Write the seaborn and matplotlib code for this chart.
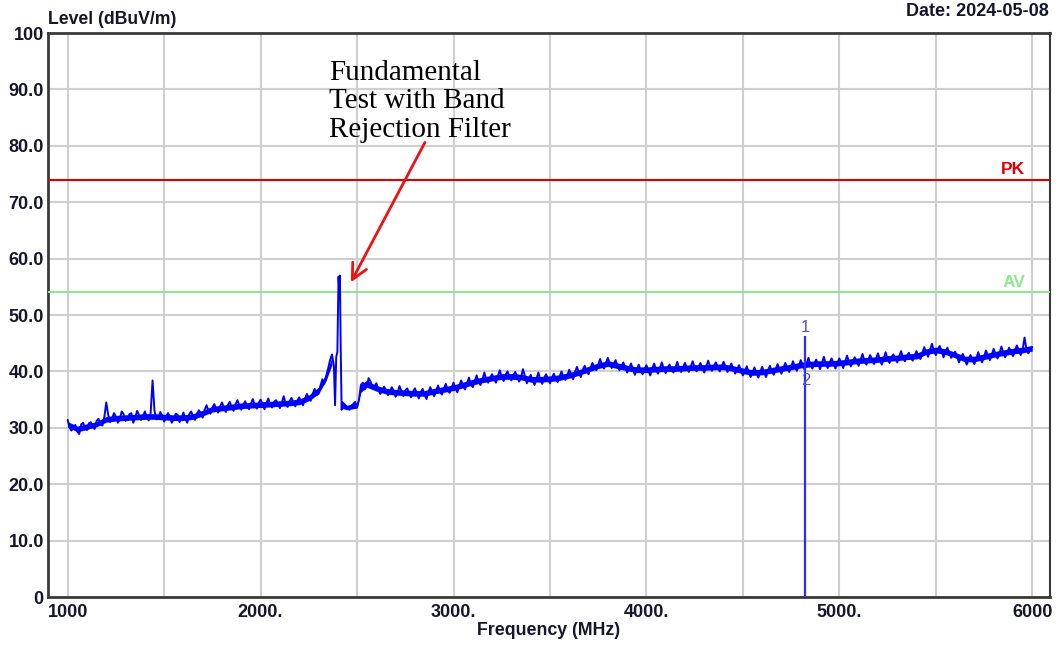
import numpy as np
import pandas as pd
import matplotlib
matplotlib.use("Agg")
import matplotlib.pyplot as plt
import seaborn as sns

# ---------------- data ----------------
freq_main = list(range(1000, 2400, 20))
level_main = [
    31.4, 29.5, 30.5, 28.9, 30.9, 29.6, 31.0, 29.8, 31.6, 30.4,
    34.5, 31.0, 32.6, 30.9, 32.9, 31.2, 32.4, 30.9, 33.0, 31.4,
    32.9, 31.3, 38.4, 31.5, 32.8, 31.1, 32.6, 30.9, 32.5, 31.0,
    32.7, 30.9, 32.9, 31.4, 33.1, 31.8, 34.0, 32.5, 34.2, 32.7,
    34.5, 32.8, 34.6, 33.0, 34.9, 33.2, 34.7, 33.3, 35.1, 33.4,
    35.0, 33.3, 35.2, 33.6, 34.9, 33.5, 35.6, 33.7, 35.3, 33.8,
    35.4, 34.0, 36.0, 34.8, 36.9, 36.0, 38.6, 39.2, 42.0, 41.0,
]
freq_main_mid = list(range(1010, 2380, 20))
level_main_mid = [
    30.0, 30.2, 29.3, 30.6, 29.9, 30.8, 30.1, 31.2, 30.6, 31.9,
    32.3, 31.6, 32.0, 31.5, 32.4, 31.7, 32.6, 31.8, 32.2, 32.0,
    31.9, 32.6, 33.0, 31.7, 32.2, 31.9, 32.0, 31.6, 32.3, 31.8,
    31.6, 32.4, 32.0, 32.5, 32.6, 33.2, 33.0, 33.6, 33.3, 33.8,
    33.5, 34.0, 33.7, 34.2, 33.9, 34.1, 33.8, 34.3, 34.0, 34.4,
    34.2, 34.4, 34.0, 34.6, 34.3, 34.5, 34.2, 34.7, 34.4, 34.8,
    34.6, 35.2, 35.3, 36.0, 35.8, 37.4, 37.8, 40.5, 43.0,
]
freq_peak = [2386, 2392, 2398, 2404, 2408, 2411, 2415, 2420, 2425, 2440,
             2450, 2460, 2470, 2480, 2490, 2500, 2510, 2520, 2530, 2540,
             2550, 2560, 2570, 2580, 2590]
level_peak = [34.0, 42.5, 43.5, 56.8, 54.2, 57.0, 45.0, 33.2, 34.5, 34.0,
              33.6, 33.2, 33.9, 34.2, 34.6, 33.6, 35.0, 37.6, 38.0, 36.8,
              37.4, 38.8, 38.2, 37.0, 37.3]
freq_high = list(range(2600, 6020, 20))
level_high = [
    37.9, 36.0, 37.3, 35.8, 37.2, 35.5, 37.4, 35.6, 37.0, 35.4,
    37.0, 35.2, 36.9, 35.1, 37.2, 35.6, 37.5, 35.9, 37.8, 36.2,
    38.0, 36.3, 38.4, 36.8, 38.9, 37.2, 39.3, 37.6, 39.8, 38.0,
    39.5, 38.0, 40.2, 38.3, 40.0, 38.4, 39.9, 38.2, 40.4, 37.9,
    39.4, 37.6, 39.8, 37.8, 39.5, 37.9, 39.6, 38.1, 40.0, 38.5,
    40.3, 38.6, 40.8, 39.0, 41.0, 39.5, 41.5, 40.2, 42.2, 40.5,
    42.4, 40.6, 42.0, 40.2, 41.6, 39.8, 41.4, 39.4, 41.2, 39.5,
    41.1, 39.3, 41.4, 39.6, 41.6, 39.7, 41.2, 39.8, 41.7, 39.9,
    41.5, 39.9, 41.8, 40.0, 41.5, 39.8, 41.9, 40.1, 41.6, 40.0,
    41.7, 39.9, 41.4, 39.6, 41.1, 39.3, 40.9, 39.0, 40.7, 38.9,
    40.8, 39.0, 41.0, 39.4, 41.3, 39.6, 41.5, 39.9, 41.8, 40.1,
    42.0, 40.3, 42.4, 40.5, 42.1, 40.4, 42.6, 40.6, 42.3, 40.5,
    42.3, 40.6, 42.8, 40.9, 42.5, 41.0, 43.1, 41.2, 42.9, 41.3,
    43.2, 41.2, 43.4, 41.5, 43.0, 41.6, 43.6, 41.8, 43.3, 41.9,
    43.6, 42.2, 44.3, 42.6, 44.9, 42.9, 44.5, 42.5, 44.2, 42.4,
    43.5, 41.6, 43.1, 41.2, 42.9, 41.3, 43.4, 41.6, 43.7, 42.0,
    44.0, 42.3, 44.4, 42.5, 44.2, 42.7, 44.6, 42.9, 46.0, 43.2,
    44.3,
]
freq_high_mid = list(range(2610, 6000, 20))
level_high_mid = [
    36.9, 36.5, 36.7, 36.3, 36.6, 36.2, 36.5, 36.6, 36.2, 36.4,
    36.1, 36.3, 35.9, 36.4, 36.2, 36.6, 36.4, 36.9, 36.6, 37.1,
    37.0, 37.5, 37.3, 37.9, 37.7, 38.2, 38.1, 38.6, 38.5, 38.9,
    38.7, 39.2, 38.9, 39.4, 39.0, 39.3, 39.1, 38.9, 39.2, 38.6,
    38.4, 38.7, 38.5, 38.9, 38.6, 38.8, 38.7, 39.1, 38.9, 39.3,
    39.4, 39.9, 39.8, 40.3, 40.1, 40.6, 40.8, 41.2, 41.1, 41.5,
    41.4, 41.2, 41.0, 40.9, 40.7, 40.5, 40.4, 40.3, 40.2, 40.4,
    40.1, 40.5, 40.3, 40.6, 40.4, 40.7, 40.3, 40.6, 40.5, 40.8,
    40.6, 40.9, 40.7, 40.8, 40.5, 40.9, 40.8, 41.0, 40.7, 40.9,
    40.8, 40.6, 40.5, 40.3, 40.2, 40.0, 39.9, 39.8, 39.7, 39.9,
    39.8, 40.1, 40.0, 40.4, 40.3, 40.6, 40.5, 40.8, 40.7, 41.0,
    41.1, 41.3, 41.2, 41.4, 41.3, 41.5, 41.2, 41.6, 41.4, 41.5,
    41.4, 41.7, 41.6, 41.8, 41.7, 42.0, 41.9, 42.1, 42.0, 42.2,
    42.1, 42.3, 42.2, 42.5, 42.3, 42.6, 42.4, 42.7, 42.5, 42.8,
    42.6, 43.2, 43.4, 43.8, 43.7, 43.9, 43.6, 43.4, 43.2, 43.0,
    42.7, 42.4, 42.2, 42.1, 42.0, 42.3, 42.4, 42.6, 42.8, 42.9,
    43.0, 43.2, 43.3, 43.4, 43.5, 43.6, 43.7, 43.8, 43.9, 44.0,
]

# solid core of the noisy trace (low / high edge)
band_freq_a = [1000, 1050, 1100, 1150, 1200, 1250, 1300, 1350, 1400, 1450,
               1500, 1550, 1600, 1650, 1700, 1750, 1800, 1850, 1900, 1950,
               2000, 2050, 2100, 2150, 2200, 2250, 2300, 2340, 2370]
band_lo_a = [30.1, 29.3, 29.7, 30.2, 31.0, 31.2, 31.3, 31.4, 31.5, 31.5,
             31.4, 31.3, 31.3, 31.5, 32.1, 32.8, 33.0, 33.2, 33.4, 33.5,
             33.6, 33.7, 33.8, 33.9, 34.1, 34.8, 36.0, 38.4, 41.2]
band_hi_a = [31.1, 30.3, 30.7, 31.1, 32.0, 32.2, 32.3, 32.4, 32.5, 32.5,
             32.4, 32.3, 32.3, 32.5, 33.1, 33.8, 34.0, 34.2, 34.4, 34.5,
             34.6, 34.7, 34.8, 34.9, 35.1, 35.8, 37.2, 39.6, 42.6]
band_freq_b = [2425, 2450, 2500, 2520, 2550] + list(range(2600, 6050, 50))
band_lo_b = [
    33.4, 33.2, 33.5, 36.3, 37.2,
    36.5, 36.0, 35.8, 35.7, 35.6, 35.6, 36.0, 36.3, 36.6, 37.1,
    37.6, 38.0, 38.3, 38.6, 38.6, 38.5, 38.1, 38.1, 38.2, 38.4,
    38.8, 39.3, 39.9, 40.5, 40.9, 40.5, 40.1, 39.8, 39.8, 39.9,
    40.0, 40.0, 40.1, 40.2, 40.2, 40.3, 40.3, 40.0, 39.6, 39.3,
    39.4, 39.7, 40.0, 40.3, 40.6, 40.8, 40.9, 40.9, 41.0, 41.2,
    41.4, 41.5, 41.6, 41.8, 41.9, 42.1, 42.2, 43.0, 43.3, 43.0,
    42.4, 41.7, 41.7, 42.1, 42.5, 42.8, 43.1, 43.3, 43.6,
]
band_hi_b = [
    34.3, 34.0, 34.5, 37.7, 38.4,
    37.5, 37.0, 36.8, 36.7, 36.6, 36.6, 37.0, 37.3, 37.6, 38.1,
    38.6, 39.0, 39.3, 39.6, 39.6, 39.5, 39.1, 39.1, 39.2, 39.4,
    39.8, 40.3, 40.9, 41.5, 41.9, 41.5, 41.1, 40.8, 40.8, 40.9,
    41.0, 41.0, 41.1, 41.2, 41.2, 41.3, 41.3, 41.0, 40.6, 40.3,
    40.4, 40.7, 41.0, 41.3, 41.6, 41.8, 41.9, 41.9, 42.0, 42.2,
    42.4, 42.5, 42.6, 42.8, 42.9, 43.1, 43.2, 44.0, 44.3, 44.0,
    43.4, 42.7, 42.7, 43.1, 43.5, 43.8, 44.1, 44.3, 44.6,
]

limit_names = ["PK", "AV"]
limit_levels = [74.0, 54.0]
limit_colors = ["#e00000", "#8fe88f"]
limit_label_levels = [75.8, 55.7]

marker_freq = [4824.0]
marker_top = [46.3]
marker_labels = ["1", "2"]
marker_label_levels = [47.8, 38.3]

x_ticks = [1000, 2000, 3000, 4000, 5000, 6000]
x_ticklabels = ["1000", "2000.", "3000.", "4000.", "5000.", "6000"]
y_ticks = [0, 10, 20, 30, 40, 50, 60, 70, 80, 90, 100]
y_ticklabels = ["0", "10.0", "20.0", "30.0", "40.0", "50.0", "60.0",
                "70.0", "80.0", "90.0", "100"]

# ---------------- figure ----------------
sns.set_theme(style="white")
plt.rcParams["font.family"] = ["Liberation Sans", "DejaVu Sans"]

fig = plt.figure(figsize=(10.58, 6.49), dpi=100)
ax = fig.add_axes([48 / 1058, 52 / 649, 1002 / 1058, 564 / 649])

trace_blue = "#0000ff"
ax.fill_between(band_freq_a, band_lo_a, band_hi_a, color=trace_blue,
                linewidth=0, zorder=4)
ax.fill_between(band_freq_b, band_lo_b, band_hi_b, color=trace_blue,
                linewidth=0, zorder=4)

df = pd.DataFrame({
    "freq": freq_main + freq_main_mid + freq_peak + freq_high + freq_high_mid,
    "level": level_main + level_main_mid + level_peak + level_high + level_high_mid,
}).sort_values("freq")
sns.lineplot(data=df, x="freq", y="level", ax=ax, color=trace_blue,
             linewidth=1.4, estimator=None, sort=False, zorder=4)

for name, lev, lab_lev, col in zip(limit_names, limit_levels,
                                   limit_label_levels, limit_colors):
    ax.axhline(lev, color=col, linewidth=1.5, zorder=3)
    ax.text(5965, lab_lev, name, color=col, fontsize=12.5,
            fontweight="bold", ha="right", va="center", zorder=5)

for f, top in zip(marker_freq, marker_top):
    ax.vlines(f, 0, top, color="#2b2bff", linewidth=1.6, zorder=5)
    ax.text(f, marker_label_levels[0], marker_labels[0], color="#5a4fe0",
            fontsize=12, ha="center", va="center", zorder=6)
    ax.text(f, marker_label_levels[1], marker_labels[1], color="#5a4fe0",
            fontsize=12, ha="center", va="center", zorder=6)

ax.set_xlim(898, 6092)
ax.set_ylim(0, 100)
ax.set_xticks(x_ticks)
ax.set_xticklabels(x_ticklabels)
ax.set_xticks([1500, 2500, 3500, 4500, 5500], minor=True)
ax.set_yticks(y_ticks)
ax.set_yticklabels(y_ticklabels)

ax.grid(True, which="both", color="#cfcfcf", linewidth=1.5, zorder=0)
ax.set_axisbelow(True)
ax.tick_params(axis="both", which="both", length=0)
ax.tick_params(axis="x", pad=5, labelsize=13, labelcolor="#15152e")
ax.tick_params(axis="y", pad=3, labelsize=13, labelcolor="#15152e")
for lab in ax.get_xticklabels() + ax.get_yticklabels():
    lab.set_fontweight("bold")

for side, sp in ax.spines.items():
    sp.set_visible(True)
    sp.set_color("#3a3a3a")
    sp.set_linewidth(2.0 if side in ("left", "bottom", "top") else 1.5)

ax.set_xlabel("Frequency (MHz)", fontsize=12.8, fontweight="bold",
              color="#15152e", labelpad=1)
ax.set_ylabel("")

fig.text(48 / 1058, 1 - 20 / 649, "Level (dBuV/m)", fontsize=12.7,
         fontweight="bold", color="#15152e", ha="left", va="center")
fig.text(1049 / 1058, 1 - 12 / 649, "Date: 2024-05-08", fontsize=13,
         fontweight="bold", color="#15152e", ha="right", va="center")

ax.text(2357, 95.2, "Fundamental\nTest with Band\nRejection Filter",
        fontsize=21, family=["Liberation Serif", "DejaVu Serif"],
        color="black", ha="left", va="top", linespacing=1.12, zorder=6)
ax.annotate("", xy=(2468, 55.8), xytext=(2852, 80.6),
            arrowprops=dict(arrowstyle="->", color="#ee1111", lw=2.0,
                            mutation_scale=28, shrinkA=0, shrinkB=0),
            zorder=6)

fig.savefig("out.png", dpi=100)
